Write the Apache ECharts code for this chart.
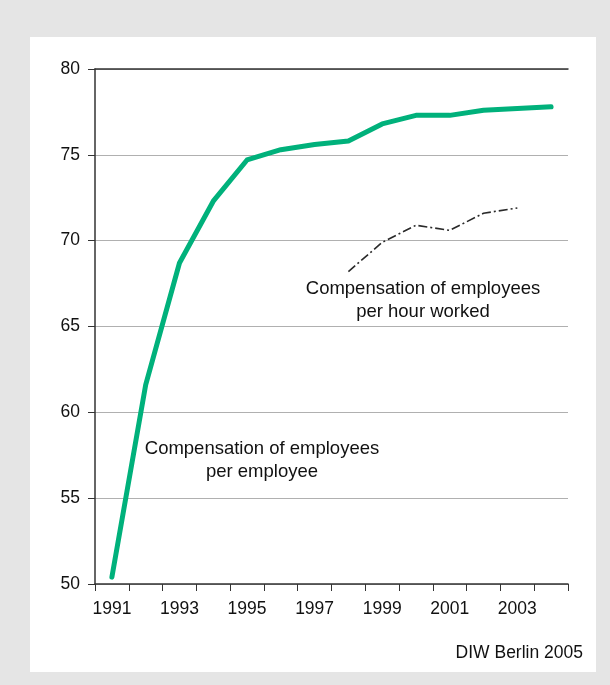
<!DOCTYPE html>
<html>
<head>
<meta charset="utf-8">
<script src="https://cdn.jsdelivr.net/npm/echarts@6/dist/echarts.min.js"></script>
<style>
  html, body { margin: 0; padding: 0; background: #e5e5e5; }
  #panel { position: absolute; left: 30px; top: 37px; width: 566px; height: 635px; background: #fff; }
  #chart { position: absolute; left: 0; top: 0; width: 610px; height: 685px; }
</style>
</head>
<body>
<div id="panel"></div>
<div id="chart"></div>
<script>
// years on the category axis
const years = ['1991', '1992', '1993', '1994', '1995', '1996', '1997', '1998', '1999', '2000', '2001', '2002', '2003', '2004']
// compensation of employees per employee
const perEmployee = [50.4, 61.6, 68.7, 72.3, 74.7, 75.3, 75.6, 75.8, 76.8, 77.3, 77.3, 77.6, 77.7, 77.8]
// compensation of employees per hour worked
const perHour = [null, null, null, null, null, null, null, 68.2, 69.9, 70.9, 70.6, 71.6, 71.9, null]

const font = 'Liberation Sans, Arial, sans-serif'
const chart = echarts.init(document.getElementById('chart'))

chart.setOption({
  animation: false,
  grid: { left: 95, right: 42, top: 69, bottom: 101 },
  xAxis: [
    {
      type: 'category',
      data: years,
      boundaryGap: true,
      axisLine: { lineStyle: { color: '#333', width: 1.5 } },
      axisTick: { show: true, interval: 0, length: 7, lineStyle: { color: '#333' } },
      axisLabel: {
        interval: 1, color: '#111', fontSize: 17.5, fontFamily: font, margin: 16,
        align: 'center'
      }
    },
    {
      // top border at 80
      type: 'category',
      position: 'top',
      data: years,
      axisLine: { show: true, lineStyle: { color: '#333', width: 1.5 } },
      axisTick: { show: false },
      axisLabel: { show: false }
    }
  ],
  yAxis: {
    type: 'value',
    min: 50,
    max: 80,
    interval: 5,
    axisLine: { show: true, lineStyle: { color: '#333', width: 1.5 } },
    axisTick: { show: true, length: 7, lineStyle: { color: '#333' } },
    axisLabel: { color: '#111', fontSize: 17.5, fontFamily: font, margin: 15 },
    splitLine: { show: true, lineStyle: { color: '#b0b0b0', width: 1 } }
  },
  series: [
    {
      name: 'Compensation of employees per employee',
      type: 'line',
      data: perEmployee,
      symbol: 'none',
      lineStyle: { color: '#00b17b', width: 5, cap: 'round', join: 'round' }
    },
    {
      name: 'Compensation of employees per hour worked',
      type: 'line',
      data: perHour,
      symbol: 'none',
      lineStyle: { color: '#2a2a2a', width: 1.6, type: [9, 3, 2, 3] }
    }
  ],
  graphic: [
    {
      type: 'text', z: 10,
      style: {
        text: 'Compensation of employees\nper employee', fill: '#111',
        font: '18.5px ' + font, textAlign: 'center', textVerticalAlign: 'middle', lineHeight: 23
      },
      x: 262, y: 460
    },
    {
      type: 'text', z: 10,
      style: {
        text: 'Compensation of employees\nper hour worked', fill: '#111',
        font: '18.5px ' + font, textAlign: 'center', textVerticalAlign: 'middle', lineHeight: 23
      },
      x: 423, y: 300
    },
    {
      type: 'text', z: 10,
      style: {
        text: 'DIW Berlin 2005', fill: '#111',
        font: '17.5px ' + font, textAlign: 'right', textVerticalAlign: 'middle'
      },
      x: 583, y: 653
    }
  ]
})
</script>
</body>
</html>
